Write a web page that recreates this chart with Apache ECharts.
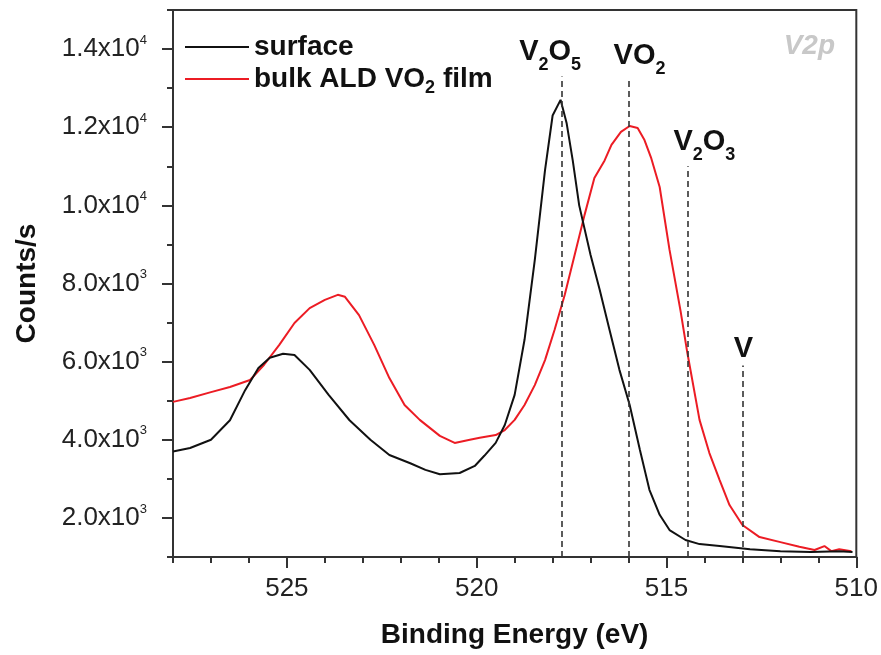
<!DOCTYPE html>
<html>
<head>
<meta charset="utf-8">
<script src="https://cdn.jsdelivr.net/npm/echarts@6/dist/echarts.min.js"></script>
<style>
  html, body { margin: 0; padding: 0; background: #fff; }
  #chart { width: 881px; height: 655px; }
</style>
</head>
<body>
<div id="chart"></div>
<script>
// V2p spectra, binding energy (eV) vs counts/s
const surfaceEnergy = [528.00, 527.55, 527.00, 526.50, 526.10, 525.75, 525.45, 525.10, 524.80, 524.40,
  523.90, 523.35, 522.80, 522.30, 521.75, 521.35, 520.97, 520.45, 520.05, 519.80,
  519.50, 519.26, 519.00, 518.74, 518.47, 518.20, 518.00, 517.79, 517.63, 517.47,
  517.30, 517.00, 516.76, 516.50, 516.24, 515.97, 515.70, 515.45, 515.18, 514.92,
  514.50, 514.13, 513.60, 512.80, 512.00, 511.20, 510.45, 510.10];
const surfaceCounts = [3700, 3790, 4000, 4500, 5270, 5840, 6100, 6200, 6170, 5790,
  5150, 4500, 4000, 3610, 3400, 3230, 3120, 3150, 3330, 3590,
  3920, 4380, 5150, 6560, 8600, 10900, 12300, 12700, 12100, 11150,
  10000, 8730, 7840, 6810, 5790, 4890, 3740, 2720, 2080, 1690,
  1435, 1330, 1280, 1200, 1150, 1130, 1150, 1130];

const bulkEnergy = [528.00, 527.55, 527.00, 526.50, 525.97, 525.60, 525.20, 524.80, 524.40, 524.00,
  523.66, 523.47, 523.10, 522.70, 522.30, 521.90, 521.50, 520.97, 520.58, 520.18,
  519.92, 519.50, 519.26, 519.00, 518.74, 518.47, 518.20, 517.95, 517.68, 517.42,
  517.16, 516.90, 516.63, 516.45, 516.20, 515.97, 515.76, 515.58, 515.40, 515.18,
  514.92, 514.63, 514.45, 514.13, 513.87, 513.60, 513.34, 513.00, 512.55, 512.00,
  511.50, 511.10, 510.84, 510.66, 510.45, 510.13];
const bulkCounts = [4970, 5070, 5220, 5350, 5530, 5920, 6430, 6990, 7370, 7580,
  7710, 7660, 7190, 6430, 5580, 4890, 4510, 4100, 3920, 4000,
  4050, 4120, 4250, 4510, 4890, 5400, 6040, 6810, 7710, 8730,
  9750, 10700, 11150, 11550, 11880, 12030, 11980, 11670, 11200, 10470,
  8860, 7300, 6220, 4510, 3660, 2970, 2330, 1820, 1510, 1380,
  1260, 1180, 1280, 1150, 1200, 1150];

// reference positions of the oxidation states
const peakNames = ['V2O5', 'VO2', 'V2O3', 'V'];
const peakEnergy = [517.75, 516.0, 514.45, 513.0];
const peakTop = [13300, 13200, 11000, 5900];
const peakShift = [-12, 11, 17, 1];   // label centre vs line (px)

const xMajorTicks = [510, 515, 520, 525];
const yMajorTicks = [2000, 4000, 6000, 8000, 10000, 12000, 14000];

const FONT = 'Liberation Sans, Arial, sans-serif';

function zip(xs, ys) {
  return xs.map((x, i) => [x, ys[i]]);
}
// "V2O5" -> rich text with subscript digits
function toRich(name) {
  return name.split(/(\d)/).filter(Boolean)
    .map(p => /\d/.test(p) ? '{s|' + p + '}' : '{b|' + p + '}').join('');
}
function sciLabel(v) {
  const e = Math.floor(Math.log10(v));
  const m = (v / Math.pow(10, e)).toFixed(1);
  return '{m|' + m + 'x10}{e|' + e + '}';
}

const chart = echarts.init(document.getElementById('chart'), null, { renderer: 'canvas' });

const axisLineStyle = { color: '#333', width: 2 };

chart.setOption({
  animation: false,
  backgroundColor: '#fff',
  grid: {
    left: 173, right: 24, top: 10, bottom: 98,
    show: true, borderColor: '#333', borderWidth: 2
  },
  legend: {
    orient: 'vertical',
    left: 180, top: 28,
    icon: 'rect',
    itemWidth: 64, itemHeight: 2, itemGap: 4,
    data: ['surface', 'bulk ALD VO2 film'],
    formatter: name => name === 'surface' ? '{b|surface}' : '{b|bulk ALD VO}{s|2}{b| film}',
    textStyle: {
      rich: {
        b: { fontFamily: FONT, fontSize: 28, fontWeight: 'bold', color: '#111' },
        s: { fontFamily: FONT, fontSize: 18, fontWeight: 'bold', color: '#111', padding: [18, 0, 0, 0] }
      }
    }
  },
  xAxis: [{
    type: 'value', min: 510, max: 528, inverse: true, position: 'bottom',
    name: 'Binding Energy (eV)', nameLocation: 'middle', nameGap: 64,
    nameTextStyle: { fontFamily: FONT, fontSize: 28, fontWeight: 'bold', color: '#111' },
    axisLine: { show: true, lineStyle: axisLineStyle },
    axisTick: { show: true, length: 11, customValues: xMajorTicks, lineStyle: axisLineStyle },
    axisLabel: { customValues: xMajorTicks, margin: 19, fontFamily: FONT, fontSize: 26, color: '#222' },
    splitLine: { show: false }
  }, {
    type: 'value', min: 510, max: 528, interval: 1, inverse: true, position: 'bottom',
    axisLine: { show: false },
    axisTick: { show: true, length: 6, lineStyle: axisLineStyle },
    axisLabel: { show: false },
    splitLine: { show: false }
  }],
  yAxis: [{
    type: 'value', min: 1000, max: 15000, position: 'left',
    name: 'Counts/s', nameLocation: 'middle', nameGap: 132, nameRotate: 90,
    nameTextStyle: { fontFamily: FONT, fontSize: 28, fontWeight: 'bold', color: '#111' },
    axisLine: { show: true, lineStyle: axisLineStyle },
    axisTick: { show: true, length: 11, customValues: yMajorTicks, lineStyle: axisLineStyle },
    axisLabel: {
      customValues: yMajorTicks, margin: 26,
      formatter: sciLabel,
      rich: {
        m: { fontFamily: FONT, fontSize: 26, color: '#222' },
        e: { fontFamily: FONT, fontSize: 13, color: '#222', padding: [0, 0, 18, 0] }
      }
    },
    splitLine: { show: false }
  }, {
    type: 'value', min: 1000, max: 15000, interval: 1000, position: 'left',
    axisLine: { show: false },
    axisTick: { show: true, length: 6, lineStyle: axisLineStyle },
    axisLabel: { show: false },
    splitLine: { show: false }
  }],
  graphic: [{
    type: 'text', right: 46, top: 32,
    style: { text: 'V2p', font: 'italic bold 28px ' + FONT, fill: '#c8c8c8' }
  }],
  series: [{
    name: 'surface', type: 'line', xAxisIndex: 0, yAxisIndex: 0,
    data: zip(surfaceEnergy, surfaceCounts),
    symbol: 'none', z: 3,
    lineStyle: { color: '#111', width: 2 },
    itemStyle: { color: '#111' },
    markLine: {
      silent: true, symbol: ['none', 'none'], animation: false,
      lineStyle: { color: '#333', width: 1.6, type: [6, 4] },
      label: {
        show: true, position: 'end', distance: 2,
        rich: {
          b: { fontFamily: FONT, fontSize: 29, fontWeight: 'bold', color: '#111' },
          s: { fontFamily: FONT, fontSize: 18, fontWeight: 'bold', color: '#111', padding: [26, 0, 0, 0] }
        }
      },
      data: peakNames.map((n, i) => [{
        coord: [peakEnergy[i], 1000],
        label: {
          formatter: toRich(n),
          padding: peakShift[i] < 0 ? [0, -2 * peakShift[i], 0, 0] : [0, 0, 0, 2 * peakShift[i]]
        }
      }, { coord: [peakEnergy[i], peakTop[i]] }])
    }
  }, {
    name: 'bulk ALD VO2 film', type: 'line', xAxisIndex: 0, yAxisIndex: 0,
    data: zip(bulkEnergy, bulkCounts),
    symbol: 'none', z: 2,
    lineStyle: { color: '#ec1c24', width: 2 },
    itemStyle: { color: '#ec1c24' }
  }]
});
</script>
</body>
</html>
